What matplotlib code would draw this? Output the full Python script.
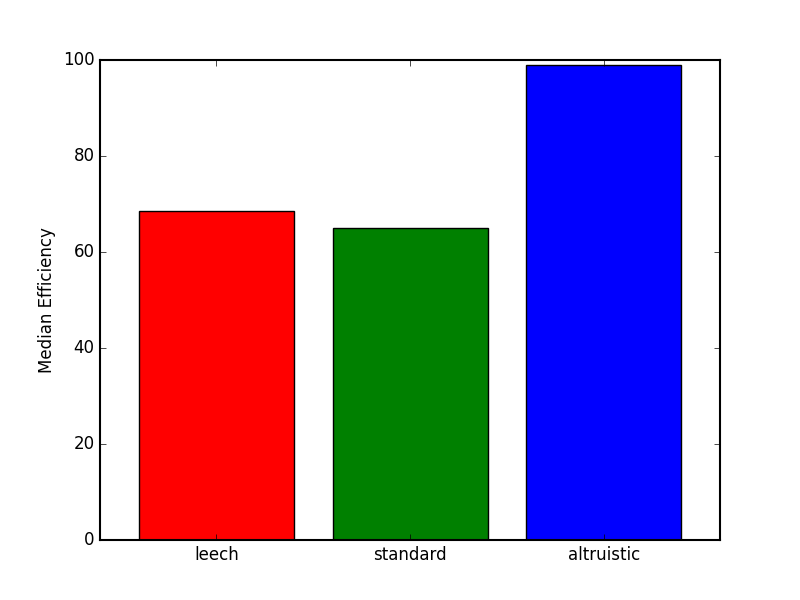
import numpy as np
import matplotlib
matplotlib.use('Agg')
import matplotlib.pyplot as plt

categories = ['leech', 'standard', 'altruistic']
median_eff = [68.5, 65.0, 99.0]
colors = ['red', 'green', 'blue']

plt.style.use('classic')
fig, ax = plt.subplots(figsize=(8, 6), dpi=100)
fig.patch.set_facecolor('white')

x = np.arange(len(categories))
ax.bar(x, median_eff, width=0.8, color=colors, align='center', edgecolor='black')
ax.set_xticks(x)
ax.set_xticklabels(categories)
ax.set_xlim(-0.6, 2.6)
ax.set_ylim(0, 100)
ax.set_ylabel('Median Efficiency')
for sp in ax.spines.values():
    sp.set_linewidth(1.5)

plt.savefig('out.png', dpi=100, facecolor='white')
